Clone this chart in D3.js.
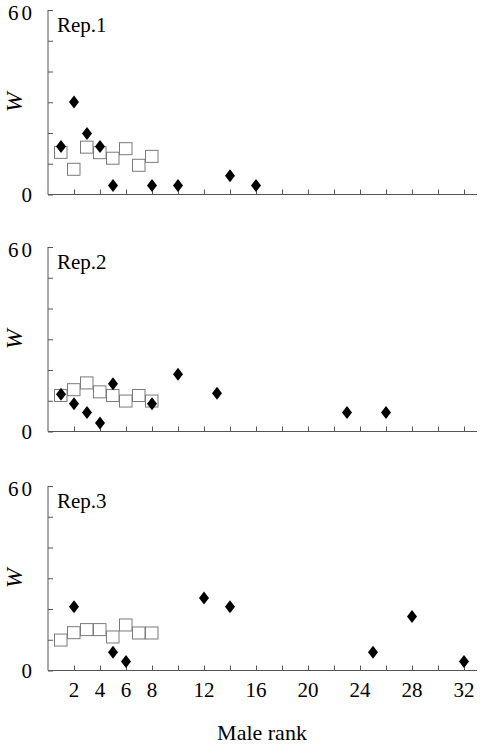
<!DOCTYPE html>
<html><head><meta charset="utf-8">
<script src="https://cdn.jsdelivr.net/npm/d3@7"></script>
<style>body{margin:0;background:#fff}svg{display:block}</style>
</head><body>
<script>
// ranks of the open squares (expected values) per replicate
const squareRanks = [1,2,3,4,5,6,7,8];
const rep1Squares = [13.7, 8.2, 15.4, 13.6, 11.8, 14.9, 9.5, 12.4];
const rep2Squares = [11.7, 13.6, 15.8, 12.9, 11.7, 9.9, 11.7, 9.9];
const rep3Squares = [9.9, 12.3, 13.3, 13.3, 10.9, 14.8, 12.2, 12.2];
// observed (diamonds)
const rep1Ranks = [1,2,3,4,5,8,10,14,16];
const rep1Obs   = [15.6,30.1,19.8,15.6,2.9,2.9,2.9,6.1,2.9];
const rep2Ranks = [1,2,3,4,5,8,10,13,23,26];
const rep2Obs   = [12.1,9.0,6.2,2.8,15.5,9.0,18.6,12.4,6.2,6.2];
const rep3Ranks = [2,5,6,12,14,25,28,32];
const rep3Obs   = [20.7,5.9,2.9,23.6,20.7,5.9,17.6,2.9];
const panelNames = ["Rep.1","Rep.2","Rep.3"];
const xTickValues = [2,4,6,8,10,12,14,16,18,20,22,24,26,28,30,32];
const xTickLabels = [2,4,6,8,12,16,20,24,28,32];
const yTickValues = [0,10,20,30,40,50,60];
const yTickLabels = [0,60];

const W = 482, H = 748;
const svg = d3.select("body").append("svg").attr("width",W).attr("height",H);
const x = d3.scaleLinear().domain([0,33]).range([48,477]);
const panelTops = [10,247,486];
const panelH = 184.5;
const serif = "'Liberation Serif','Times New Roman',serif";
const axisCol = "#555";

const panels = [
  {sq: rep1Squares, rk: rep1Ranks, obs: rep1Obs},
  {sq: rep2Squares, rk: rep2Ranks, obs: rep2Obs},
  {sq: rep3Squares, rk: rep3Ranks, obs: rep3Obs}
];

panels.forEach((p,i)=>{
  const top = panelTops[i];
  const y = d3.scaleLinear().domain([0,60]).range([top+panelH, top]);
  const g = svg.append("g");
  // y axis
  const ya = g.append("g").attr("transform",`translate(${x(0)},0)`)
    .call(d3.axisRight(y).tickValues(yTickValues).tickSize(5).tickFormat(""));
  ya.select(".domain").attr("stroke",axisCol).attr("d",`M0,${y(0)}V${y(60)}`);
  ya.selectAll(".tick line").attr("stroke",axisCol);
  // x axis
  const xa = g.append("g").attr("transform",`translate(0,${y(0)})`)
    .call(d3.axisTop(x).tickValues(xTickValues).tickSize(5).tickFormat(""));
  xa.select(".domain").attr("stroke",axisCol).attr("d",`M${x(0)},0H${x(33)}`);
  xa.selectAll(".tick line").attr("stroke",axisCol);
  // y labels
  g.selectAll(".ylab").data(yTickLabels).join("text")
    .attr("x",35).attr("y",d=> d===60 ? y(d)+3 : y(d))
    .attr("dy","0.35em").attr("text-anchor","end")
    .attr("font-family",serif).attr("font-size",21).attr("letter-spacing",3)
    .text(d=>d);
  // W
  g.append("text").attr("transform",`translate(22,${(y(0)+y(60))/2}) rotate(-90)`)
    .attr("text-anchor","middle").attr("font-family",serif).attr("font-style","italic")
    .attr("font-size",24).text("W");
  // panel name
  g.append("text").attr("x",57).attr("y",top+22).attr("font-family",serif)
    .attr("font-size",21).text(panelNames[i]);
  // squares
  const s = x(1)-x(0);
  g.selectAll(".sq").data(squareRanks.map((r,j)=>({r, v:p.sq[j]}))).join("rect")
    .attr("x",d=>x(d.r)-s/2).attr("y",d=>y(d.v)-6).attr("width",s-0.5).attr("height",12)
    .attr("fill","none").attr("stroke","#7a7a7a").attr("stroke-width",1);
  // diamonds
  g.selectAll(".dm").data(p.rk.map((r,j)=>({r, v:p.obs[j]}))).join("path")
    .attr("d",d=>{const cx=x(d.r), cy=y(d.v); return `M${cx},${cy-6.5}L${cx+5},${cy}L${cx},${cy+6.5}L${cx-5},${cy}Z`;})
    .attr("fill","#000");
  // x tick labels on last panel
  if(i===2){
    g.selectAll(".xl").data(xTickLabels).join("text")
      .attr("x",d=>x(d)).attr("y",y(0)+26).attr("text-anchor","middle")
      .attr("font-family",serif).attr("font-size",21).text(d=>d);
  }
});
svg.append("text").attr("x",262).attr("y",740).attr("text-anchor","middle")
  .attr("font-family",serif).attr("font-size",22).text("Male rank");
</script>
</body></html>
